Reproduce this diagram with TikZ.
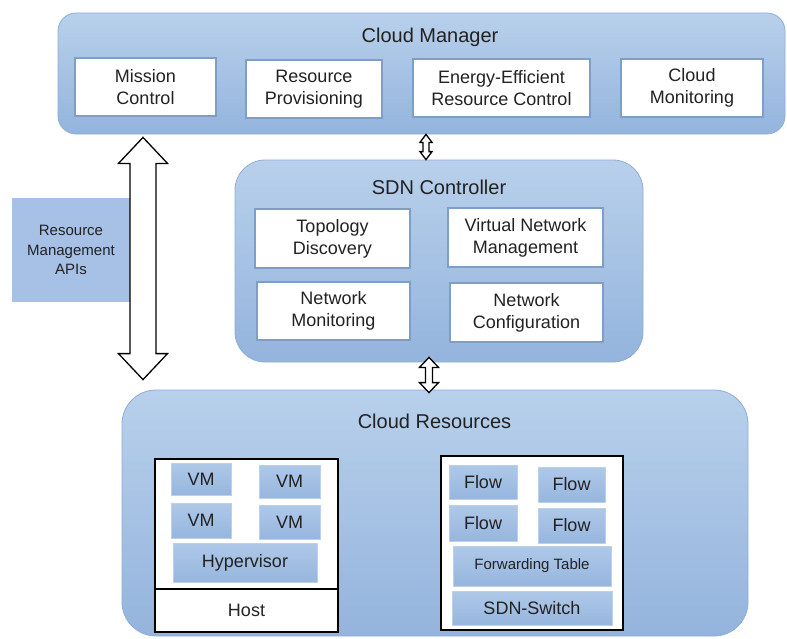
\documentclass[tikz,border=0pt]{standalone}
\usepackage{fontspec}
\setmainfont{Liberation Sans}
\usetikzlibrary{calc}

\definecolor{panelTop}{HTML}{B8D0EB}
\definecolor{panelBot}{HTML}{94B4DD}
\definecolor{panelEdge}{HTML}{8FADD6}
\definecolor{tileTop}{HTML}{AEC8E8}
\definecolor{tileBot}{HTML}{97B6DE}
\definecolor{tileEdge}{HTML}{BCD0EA}
\definecolor{cardEdge}{HTML}{7E9DC7}
\definecolor{apiFill}{HTML}{A6C1E5}
\definecolor{ink}{HTML}{222222}

\tikzset{
  panel/.style={draw=panelEdge, line width=0.8pt, top color=panelTop, bottom color=panelBot, inner sep=0pt},
  card/.style={draw=cardEdge, line width=1.2pt, fill=white, inner sep=0pt, align=center,
               font=\fontsize{18}{22}\selectfont, text=ink},
  tile/.style={draw=tileEdge, line width=1pt, top color=tileTop, bottom color=tileBot, inner sep=0pt,
               align=center, font=\fontsize{18}{22}\selectfont, text=ink},
  frame/.style={draw=black, line width=1.8pt, fill=white, inner sep=0pt},
  heading/.style={font=\fontsize{20}{24}\selectfont, text=ink, inner sep=0pt},
  blockarrow/.style={draw=black, line width=1.3pt, fill=white, line join=miter}
}

% vertical two-headed block arrow: #1 top tip, #2 bottom tip, #3 shaft half-width,
% #4 head half-width, #5 head length
\newcommand\vblockarrow[5]{%
  \draw[blockarrow] (#1) -- ($(#1)+(#4,#5)$) -- ($(#1)+(#3,#5)$) -- ($(#2)+(#3,-#5)$)
    -- ($(#2)+(#4,-#5)$) -- (#2) -- ($(#2)+(-#4,-#5)$) -- ($(#2)+(-#3,-#5)$)
    -- ($(#1)+(-#3,#5)$) -- ($(#1)+(-#4,#5)$) -- cycle;}

\begin{document}
\begin{tikzpicture}[x=1pt, y=-1pt]
\useasboundingbox (0,0) rectangle (787,638);

% ---------- Cloud Manager ----------
\node[panel, rounded corners=18pt, minimum width=727pt, minimum height=121pt] (cm) at (421.5,73.5) {};
\node[heading] (cmt) at (430,37) {Cloud Manager};
\node[card, minimum width=141pt, minimum height=58pt] (mc) at (145.5,87) {Mission\\Control};
\node[card, minimum width=136pt, minimum height=58pt] (rp) at (314,89) {Resource\\Provisioning};
\node[card, minimum width=177pt, minimum height=58pt] (ee) at (501.5,88) {Energy-Efficient\\Resource Control};
\node[card, minimum width=142pt, minimum height=58pt] (cmo) at (692,88) {Cloud\\Monitoring};

% ---------- Resource Management APIs ----------
\node[fill=apiFill, inner sep=0pt, minimum width=118pt, minimum height=104pt, align=center,
      font=\fontsize{15}{19.5}\selectfont, text=ink] (api) at (71,250) {Resource\\Management\\APIs};

% ---------- SDN Controller ----------
\node[panel, rounded corners=30pt, minimum width=408pt, minimum height=202pt] (sdn) at (439,261) {};
\node[heading] (sdnt) at (439,187) {SDN Controller};
\node[card, minimum width=155pt, minimum height=59pt] (td) at (332.5,238.5) {Topology\\Discovery};
\node[card, minimum width=153pt, minimum height=58pt] (nm) at (333.5,311) {Network\\Monitoring};
\node[card, minimum width=155pt, minimum height=59pt] (vnm) at (525.5,237.5) {Virtual Network\\Management};
\node[card, minimum width=153pt, minimum height=59pt] (nc) at (526.5,312.5) {Network\\Configuration};

% ---------- Cloud Resources ----------
\node[panel, rounded corners=34pt, minimum width=626pt, minimum height=246pt] (cr) at (435,513) {};
\node[heading] (crt) at (434.5,421) {Cloud Resources};

% host
\node[frame, minimum width=183pt, minimum height=173pt] (host) at (246.5,545.5) {};
\coordinate (hostcut) at (246.5,589);
\draw[line width=1.8pt] (hostcut -| host.west) -- (hostcut -| host.east);
\node[font=\fontsize{18}{22}\selectfont, text=ink] (hostlbl) at (246.5,610.5) {Host};
\node[tile, minimum width=60pt, minimum height=32pt] (vm1) at (201,479) {VM};
\node[tile, minimum width=61pt, minimum height=33pt] (vm2) at (289.5,481.5) {VM};
\node[tile, minimum width=60pt, minimum height=35pt] (vm3) at (201,520.5) {VM};
\node[tile, minimum width=61pt, minimum height=34pt] (vm4) at (289.5,522) {VM};
\node[tile, minimum width=144pt, minimum height=39pt] (hyp) at (245,562.5) {Hypervisor};

% switch
\node[frame, minimum width=182pt, minimum height=174pt] (sw) at (532,543) {};
\node[tile, minimum width=68pt, minimum height=34pt] (f1) at (483,482) {Flow};
\node[tile, minimum width=67pt, minimum height=35pt] (f2) at (571.5,484.5) {Flow};
\node[tile, minimum width=68pt, minimum height=36pt] (f3) at (483,523) {Flow};
\node[tile, minimum width=67pt, minimum height=35pt] (f4) at (571.5,525.5) {Flow};
\node[tile, minimum width=158pt, minimum height=40pt, font=\fontsize{15}{19}\selectfont] (ft) at (532,566) {Forwarding Table};
\node[tile, minimum width=160pt, minimum height=34pt] (ss) at (532,608) {SDN-Switch};

% ---------- arrows ----------
\coordinate (bigTop) at ($(cm.south -| 143,0)+(0,3)$);
\coordinate (bigBot) at ($(cr.north -| 143,0)+(0,-10)$);
\vblockarrow{bigTop}{bigBot}{13}{24.5}{26}

\coordinate (upTop) at ($(cm.south)+(4.5,0)$);
\coordinate (upBot) at (upTop |- sdn.north);
\vblockarrow{upTop}{upBot}{3}{6}{8}

\coordinate (dnTop) at ($(sdn.south)+(-10,-5)$);
\coordinate (dnBot) at ($(dnTop |- cr.north)+(0,3)$);
\vblockarrow{dnTop}{dnBot}{3.5}{9.5}{10}
\end{tikzpicture}
\end{document}
